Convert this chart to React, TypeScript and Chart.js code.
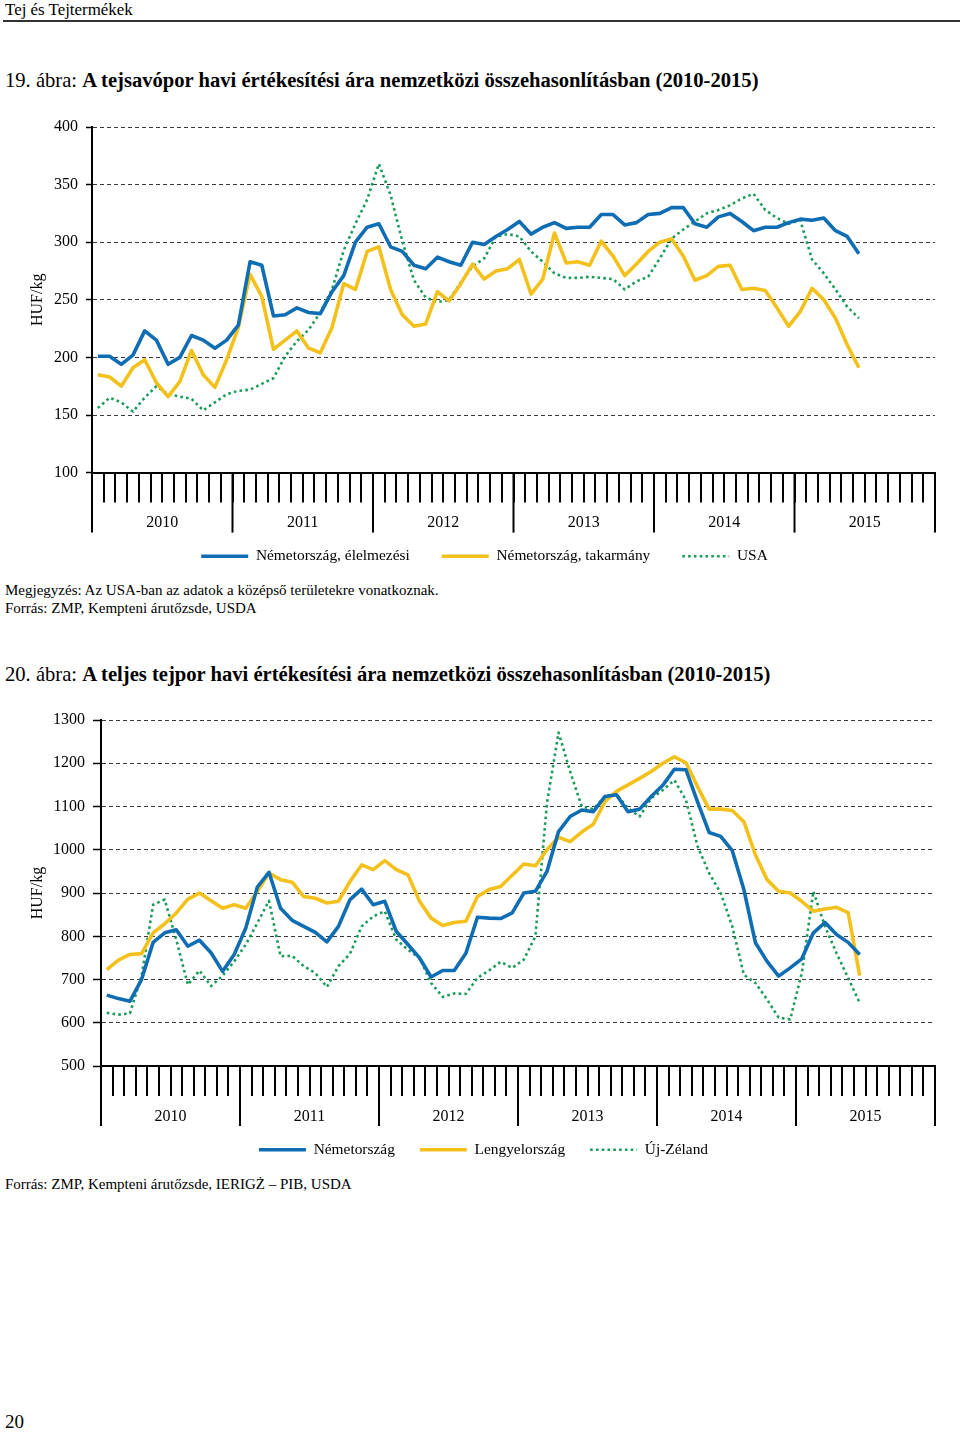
import React, { useEffect, useRef } from "react";
import { Chart, registerables } from "chart.js";

Chart.register(...registerables);

const SERIF = "'Liberation Serif', 'Times New Roman', Times, serif";

// ---------- shared categories ----------
const years = ["2010", "2011", "2012", "2013", "2014", "2015"];
const monthNums = ["01", "02", "03", "04", "05", "06", "07", "08", "09", "10", "11", "12"];

// ---------- chart 19: tejsavópor (HUF/kg) ----------
const c1YTicks = [100, 150, 200, 250, 300, 350, 400];
const c1Names = ["Németország, élelmezési", "Németország, takarmány", "USA"];
const c1Food = [
  201, 201, 194, 202, 223, 215, 194, 200, 219, 215, 208, 215,
  228, 283, 280, 236, 237, 243, 239, 238, 257, 271, 300, 313,
  316, 296, 292, 280, 277, 287, 283, 280, 300, 298, 305, 311,
  318, 307, 313, 317, 312, 313, 313, 324, 324, 315, 317, 324,
  325, 330, 330, 316, 313, 322, 325, 318, 310, 313, 313, 317,
  320, 319, 321, 310, 305, 290,
];
const c1Feed = [
  185, 183, 175, 191, 198, 178, 166, 179, 206, 185, 174, 198,
  226, 272, 253, 207, 215, 223, 208, 204, 226, 264, 259, 292,
  296, 259, 237, 227, 229, 257, 249, 264, 281, 268, 275, 277,
  285, 255, 268, 308, 282, 283, 280, 301, 288, 271, 281, 292,
  300, 303, 288, 267, 271, 279, 280, 259, 260, 258, 243, 227,
  240, 260, 250, 234, 211, 191,
];
const c1Usa = [
  156, 165, 161, 153, 165, 175, 168, 166, 164, 154, 161, 168,
  171, 172, 177, 182, 201, 214, 224, 239, 259, 293, 316, 337,
  368, 341, 301, 267, 252, 248, 250, 265, 279, 286, 305, 307,
  305, 292, 283, 273, 269, 269, 270, 269, 268, 259, 266, 270,
  286, 303, 311, 318, 325, 328, 332, 338, 342, 328, 321, 316,
  319, 285, 273, 259, 244, 234,
];

// ---------- chart 20: teljes tejpor (HUF/kg) ----------
const c2YTicks = [500, 600, 700, 800, 900, 1000, 1100, 1200, 1300];
const c2Names = ["Németország", "Lengyelország", "Új-Zéland"];
const c2Germany = [
  664, 656, 650, 700, 786, 808, 815, 777, 791, 762, 719, 758,
  819, 914, 948, 865, 837, 823, 809, 787, 823, 885, 909, 873,
  881, 811, 781, 750, 706, 721, 721, 761, 844, 842, 841, 854,
  900, 904, 950, 1042, 1077, 1092, 1088, 1123, 1127, 1088, 1094, 1123,
  1149, 1186, 1185, 1111, 1040, 1031, 998, 908, 785, 742, 708, 727,
  748, 808, 832, 804, 786, 758,
];
const c2Poland = [
  723, 745, 758, 760, 808, 829, 854, 886, 900, 882, 865, 873,
  865, 904, 946, 931, 925, 892, 888, 877, 881, 927, 965, 954,
  975, 954, 942, 881, 842, 825, 832, 835, 892, 908, 915, 941,
  967, 963, 1000, 1029, 1019, 1041, 1059, 1111, 1135, 1150, 1165, 1181,
  1200, 1215, 1201, 1146, 1094, 1094, 1091, 1065, 988, 931, 904, 900,
  881, 858, 863, 867, 855, 709,
];
const c2NewZealand = [
  623, 619, 622, 708, 873, 885, 792, 688, 721, 685, 709, 742,
  781, 831, 882, 754, 755, 731, 715, 683, 731, 760, 823, 846,
  858, 792, 769, 750, 692, 660, 668, 667, 704, 721, 741, 727,
  746, 800, 1108, 1271, 1181, 1100, 1094, 1123, 1129, 1096, 1077, 1119,
  1138, 1161, 1115, 1008, 946, 900, 823, 711, 692, 654, 612, 608,
  715, 904, 823, 761, 704, 646,
];

const BLUE = "#0f6db4";
const YELLOW = "#f3c01c";
const GREEN = "#1a9b58";

const monthLabels = years.flatMap((y) => monthNums.map((m) => `${y}.${m}`));

// long year-boundary ticks below the monthly ticks; also lets the year labels
// extend below the (intentionally short) x-axis box
const yearTicksPlugin = {
  id: "yearTicks",
  afterLayout(chart: any, _args: any, opts: any) {
    const xs = chart.scales.x;
    xs.bottom = xs.top + opts.length + 10;
  },
  afterDraw(chart: any, _args: any, opts: any) {
    const xs = chart.scales.x;
    const ctx = chart.ctx;
    const n = xs.getLabels().length;
    ctx.save();
    ctx.strokeStyle = "#000";
    ctx.lineWidth = 2;
    for (let k = 0; k <= n; k += 12) {
      let px: number;
      if (k === 0) px = xs.left;
      else if (k === n) px = xs.right;
      else px = (xs.getPixelForValue(k - 1) + xs.getPixelForValue(k)) / 2;
      ctx.beginPath();
      ctx.moveTo(px, xs.top);
      ctx.lineTo(px, xs.top + opts.length);
      ctx.stroke();
    }
    ctx.restore();
  },
};

type Cfg = {
  names: string[];
  series: number[][];
  yTicks: number[];
  height: number;
  padTop: number;
  padBottom: number;
  padLeft: number;
  yAxisWidth: number;
  yTickLen: number;
  xAxisHeight: number;
  legendPad: number;
  labelOffset: number;
};

function LineChart({ cfg, top }: { cfg: Cfg; top: number }) {
  const ref = useRef<HTMLCanvasElement | null>(null);
  useEffect(() => {
    if (!ref.current) return;
    const colors = [BLUE, YELLOW, GREEN];
    const datasets = cfg.series.map((s, i) => ({
      label: cfg.names[i],
      data: s,
      borderColor: colors[i],
      backgroundColor: colors[i],
      borderWidth: i === 2 ? 2.6 : 3.6,
      borderDash: i === 2 ? [2.6, 3.2] : [],
      borderCapStyle: "butt",
      borderJoinStyle: "round",
      pointRadius: 0,
      tension: 0,
      fill: false,
    }));
    const font = { family: SERIF, size: 16 };
    const chart = new Chart(ref.current, {
      type: "line",
      data: { labels: monthLabels, datasets: datasets as any },
      plugins: [yearTicksPlugin as any],
      options: {
        responsive: false,
        animation: false,
        devicePixelRatio: 1,
        layout: { padding: { top: cfg.padTop, right: 25, bottom: cfg.padBottom, left: cfg.padLeft } },
        scales: {
          x: {
            type: "category",
            offset: true,
            grid: {
              display: true,
              offset: true,
              drawOnChartArea: false,
              drawTicks: true,
              tickLength: 30,
              tickWidth: 2,
              tickColor: "#000",
              color: "#000",
              lineWidth: 2,
            },
            border: { display: true, color: "#000", width: 2 },
            ticks: {
              autoSkip: false,
              maxRotation: 0,
              minRotation: 0,
              padding: 11,
              labelOffset: cfg.labelOffset,
              color: "#000",
              font,
              callback: (_v: any, i: number) => (i % 12 === 6 ? years[Math.floor(i / 12)] : ""),
            },
            afterFit: (s: any) => {
              s.height = cfg.xAxisHeight;
            },
          },
          y: {
            min: cfg.yTicks[0],
            max: cfg.yTicks[cfg.yTicks.length - 1],
            afterBuildTicks: (s: any) => {
              s.ticks = cfg.yTicks.map((v) => ({ value: v }));
            },
            grid: {
              color: "#3a3a3a",
              lineWidth: 1,
              drawTicks: true,
              tickLength: cfg.yTickLen,
              tickColor: "#000",
              tickWidth: 1.5,
              tickBorderDash: [],
            },
            border: { display: true, color: "#000", width: 2, dash: [4, 3] },
            ticks: { padding: 8, color: "#000", font, callback: (v: any) => String(v) },
            title: {
              display: true,
              text: "HUF/kg",
              color: "#000",
              font,
              padding: { top: 38 - cfg.padLeft - 9.6, bottom: 0 },
            },
            afterFit: (s: any) => {
              s.width = cfg.yAxisWidth - cfg.padLeft;
            },
          },
        },
        plugins: {
          title: { display: false },
          tooltip: { enabled: false },
          yearTicks: { length: 60 },
          legend: {
            display: true,
            position: "bottom",
            fullSize: true,
            labels: {
              usePointStyle: true,
              pointStyle: "line",
              pointStyleWidth: 47,
              padding: cfg.legendPad,
              color: "#000",
              font: { family: SERIF, size: 15.4 },
              generateLabels: (ch: any) =>
                Chart.defaults.plugins.legend.labels.generateLabels(ch).map((it: any, i: number) => ({
                  ...it,
                  lineDash: ch.data.datasets[i].borderDash,
                  lineWidth: ch.data.datasets[i].borderWidth,
                  lineCap: "butt",
                })),
            },
          },
        } as any,
      },
    });
    return () => chart.destroy();
  }, [cfg]);
  return (
    <canvas
      ref={ref}
      width={960}
      height={cfg.height}
      style={{ position: "absolute", left: 0, top, width: 960, height: cfg.height, display: "block" }}
    />
  );
}

const cfg1: Cfg = {
  names: c1Names,
  series: [c1Food, c1Feed, c1Usa],
  yTicks: c1YTicks,
  height: 480,
  padTop: 27,
  padBottom: 6,
  padLeft: 34,
  yAxisWidth: 92,
  yTickLen: 6,
  xAxisHeight: 44,
  legendPad: 32,
  labelOffset: -5.85,
};

const cfg2: Cfg = {
  names: c2Names,
  series: [c2Germany, c2Poland, c2NewZealand],
  yTicks: c2YTicks,
  height: 480,
  padTop: 25,
  padBottom: 7.5,
  padLeft: 32,
  yAxisWidth: 101,
  yTickLen: 8,
  xAxisHeight: 51,
  legendPad: 25,
  labelOffset: -5.79,
};

function Txt({ x, baseline, size, children, style }: any) {
  return (
    <div
      style={{
        position: "absolute",
        left: x,
        top: baseline - 0.8375 * size,
        fontSize: size,
        lineHeight: `${size}px`,
        whiteSpace: "nowrap",
        fontFamily: SERIF,
        color: "#000",
        ...style,
      }}
    >
      {children}
    </div>
  );
}

export default function App() {
  return (
    <div
      style={{
        position: "absolute",
        left: 0,
        top: 0,
        width: 960,
        height: 1433,
        background: "#fff",
        overflow: "hidden",
      }}
    >
      <Txt x={5} baseline={16.2} size={16.9}>Tej és Tejtermékek</Txt>
      <div style={{ position: "absolute", left: 3, top: 20, width: 957, height: 1.5, background: "#333" }} />
      <Txt x={5} baseline={87} size={20.6}>
        19. ábra: <b>A tejsavópor havi értékesítési ára nemzetközi összehasonlításban (2010-2015)</b>
      </Txt>
      <LineChart cfg={cfg1} top={100} />
      <Txt x={5} baseline={596} size={15}>
        Megjegyzés: Az USA-ban az adatok a középső területekre vonatkoznak.
      </Txt>
      <Txt x={5} baseline={614} size={15}>Forrás: ZMP, Kempteni árutőzsde, USDA</Txt>
      <Txt x={5} baseline={681} size={20.6}>
        20. ábra: <b>A teljes tejpor havi értékesítési ára nemzetközi összehasonlításban (2010-2015)</b>
      </Txt>
      <LineChart cfg={cfg2} top={695} />
      <Txt x={5} baseline={1190} size={15}>
        Forrás: ZMP, Kempteni árutőzsde, IERIGŻ – PIB, USDA
      </Txt>
      <Txt x={5} baseline={1428} size={19}>20</Txt>
    </div>
  );
}
